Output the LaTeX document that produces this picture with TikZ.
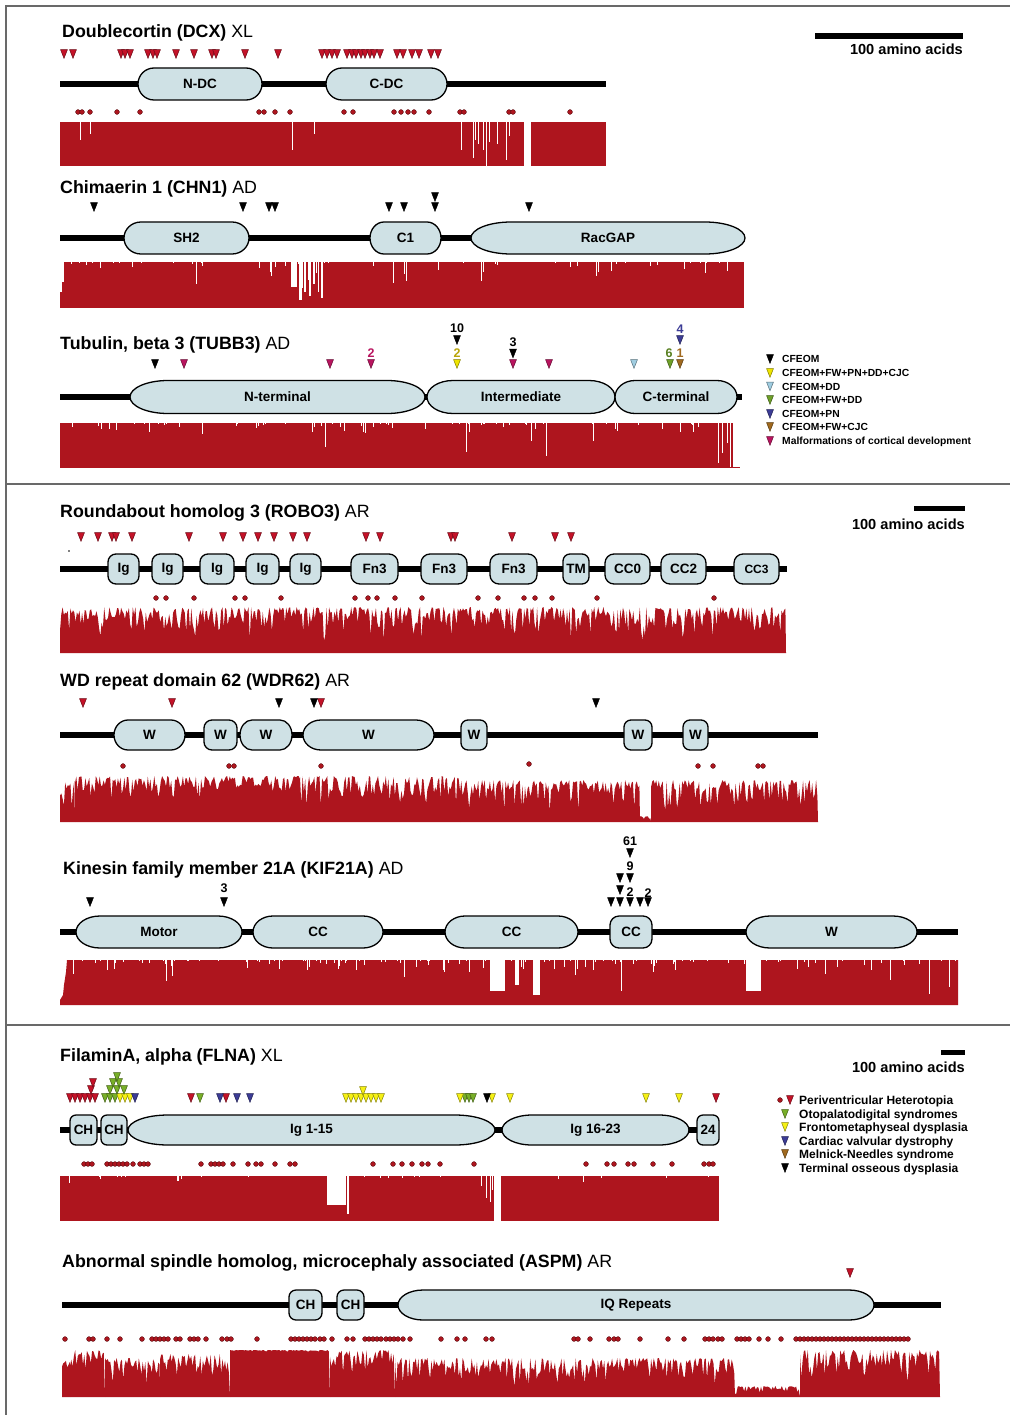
\documentclass[tikz,border=0pt]{standalone}
\usepackage{fontspec}
\setmainfont{Liberation Sans}
\definecolor{consred}{RGB}{174,21,30}
\definecolor{domfill}{RGB}{207,225,229}
\definecolor{trired}{RGB}{196,18,40}
\definecolor{framegray}{RGB}{105,105,105}
\definecolor{tyellow}{RGB}{238,228,0}
\definecolor{dyellow}{RGB}{185,165,10}
\definecolor{tlblue}{RGB}{160,205,225}
\definecolor{tgreen}{RGB}{110,160,40}
\definecolor{tblue}{RGB}{60,60,150}
\definecolor{tbrown}{RGB}{160,105,30}
\definecolor{tmag}{RGB}{185,20,95}
\definecolor{fgreen}{RGB}{120,175,40}
\definecolor{fyellow}{RGB}{245,240,20}
\tikzset{
 backbone/.style={line width=6pt, black},
 dom/.style={draw=black, line width=1.3pt, fill=domfill},
 domtxt/.style={font=\fontsize{13.5}{15}\selectfont\bfseries, inner sep=0pt},
 ttl/.style={anchor=base west, inner sep=0pt, font=\fontsize{17.8}{20}\selectfont},
 scl/.style={anchor=base east, inner sep=0pt, font=\fontsize{14.6}{16}\selectfont\bfseries},
 leg/.style={anchor=base west, inner sep=0pt, font=\fontsize{10.3}{12}\selectfont\bfseries},
 legb/.style={anchor=base west, inner sep=0pt, font=\fontsize{12}{14}\selectfont\bfseries},
 num/.style={anchor=base, inner sep=0pt, font=\fontsize{12.5}{14}\selectfont\bfseries},
 framel/.style={framegray, line width=1.8pt},
 scalebar/.style={line width=6pt, black},
 wline/.style={white, line width=0.6pt},
}
\newcommand{\tri}[3]{\filldraw[fill=#3, draw=#3!55!black, line width=0.5pt] ({#1-3.4},{#2-4.3}) -- ({#1+3.4},{#2-4.3}) -- (#1,{#2+4.3}) -- cycle;}
\newcommand{\tris}[3]{\foreach \tx in {#3} {\tri{\tx}{#1}{#2}}}
\newcommand{\dts}[2]{\foreach \dx in {#2} {\filldraw[fill=consred, draw=consred!50!black, line width=0.4pt] (\dx,#1) circle (2.4pt);}}
\newcommand{\rdom}[7]{%
  \pgfmathsetmacro\dw{#3-#2}%
  \node[dom, rounded corners=#6pt, minimum width=\dw pt, minimum height=#5pt, domtxt] (#1) at ({(#2+#3)/2},#4) {#7};}
\newcommand{\edom}[7]{%
  \draw[dom] ({#2+#6},{#4-#5}) -- ({#3-#6},{#4-#5}) arc[start angle=90, end angle=-90, x radius=#6pt, y radius=#5pt] -- ({#2+#6},{#4+#5}) arc[start angle=-90, end angle=-270, x radius=#6pt, y radius=#5pt] -- cycle;
  \node[domtxt] (#1) at ({(#2+#3)/2},#4) {#7};}
\newcommand{\noisy}[6]{%
  \pgfmathtruncatemacro\nn{(#2-#1)/1.3}%
  \fill[consred] (#1,#4) \foreach \i in {0,...,\nn} { -- ({#1+\i*1.3},{#3+#5+(#6-#5)*rnd*rnd}) } -- (#2,#4) -- cycle;}
\newcommand{\wlines}[5]{%
  \foreach \i in {1,...,#4} {
    \pgfmathsetmacro\xx{#1+rnd*(#2-#1)}
    \pgfmathsetmacro\dd{#5*rnd*rnd*rnd}
    \draw[wline] (\xx,{#3-0.5}) -- (\xx,{#3+\dd});
  }}
\begin{document}
\begin{tikzpicture}[x=1pt,y=-1pt]
\useasboundingbox (0,0) rectangle (1010,1415);
\fill[white] (0,0) rectangle (1010,1415);
\pgfmathsetseed{12}
% frame
\draw[framel] (6,1415) -- (6,6) -- (1010,6);
\draw[framel] (6,484) -- (1010,484);
\draw[framel] (6,1025) -- (1010,1025);

%================ DCX
\node[ttl] (t1) at (62,38) {\textbf{Doublecortin (DCX)} XL};
\coordinate (sb1a) at (815,36); \coordinate (sb1b) at (963,36);
\draw[scalebar] (sb1a) -- (sb1b);
\node[scl] (s1) at (963,55) {100 amino acids};
\tris{54}{trired}{64,73,121,125,130,148,153,157,176,194,212,216,245,278,322,327,332,337,347,352,356,361,365,370,374,380,397,403,412,419,431,438}
\coordinate (b1a) at (60,84); \coordinate (b1b) at (606,84);
\draw[backbone] (b1a) -- (b1b);
\edom{d1a}{138}{262}{84}{16}{16}{N-DC}
\edom{d1b}{326}{447}{84}{16}{16}{C-DC}
\dts{112}{78,82,90,117,140,259,264,275,290,344,353,394,401,408,414,429,460,464,509,513,570}
\fill[consred] (60,122) rectangle (606,166);
\fill[white] (524,122) rectangle (530.5,166);
\foreach \xx/\dd in {80/18,90/12,292/28,314/12,461/28,473/36,475/18,478/22,483/28,486/44,489/20,497/22,506/38,509/14} {\draw[wline] (\xx,121.5) -- (\xx,{122+\dd});}

%================ CHN1
\node[ttl] (t2) at (60,194) {\textbf{Chimaerin 1 (CHN1)} AD};
\tris{207}{black}{94,243,269,275,389,404,435,529}
\tri{435}{197}{black}
\coordinate (b2a) at (60,238); \coordinate (b2b) at (745,238);
\draw[backbone] (b2a) -- (b2b);
\edom{d2a}{124}{249}{238}{16}{17}{SH2}
\edom{d2b}{370}{441}{238}{16}{14}{C1}
\edom{d2c}{471}{745}{238}{16}{40}{RacGAP}
\fill[consred] (60,262) rectangle (744,308);
\fill[white] (60,261.5) rectangle (61.5,292);
\fill[white] (62,261.5) rectangle (63.5,282);
\foreach \xa/\xb/\dd in {291/297/25,299/302/38,304/306/30,309/311/34,313/315/22,318/319/30,321/322.5/36} {\fill[white] (\xa,261.5) rectangle (\xb,{262+\dd});}
\wlines{64}{744}{262}{55}{40}

%================ TUBB3
\node[ttl] (t3) at (60,349) {\textbf{Tubulin, beta 3 (TUBB3)} AD};
\tri{155}{364}{black}
\tris{364}{tmag}{184,330,371,513,549}
\node[num, tmag] (n1) at (371,357) {2};
\node[num] (n2) at (457,332) {10};
\tri{457}{340}{black}
\node[num, dyellow] (n3) at (457,357) {2};
\tri{457}{364}{tyellow}
\node[num] (n4) at (513,346.5) {3};
\tri{513}{353.5}{black}
\tri{634}{364}{tlblue}
\tri{670}{364}{tgreen}
\node[num, tgreen!80!black] (n5) at (669,357) {6};
\tri{680}{364}{tbrown}
\node[num, tbrown] (n6) at (680,357) {1};
\tri{680}{340}{tblue}
\node[num, tblue] (n7) at (680,333) {4};
\coordinate (b3a) at (60,397); \coordinate (b3b) at (742,397);
\draw[backbone] (b3a) -- (b3b);
\edom{d3a}{130}{425}{397}{16.5}{38}{N-terminal}
\edom{d3b}{427}{615}{397}{16.5}{26}{Intermediate}
\edom{d3c}{615}{737}{397}{16.5}{20}{C-terminal}
\fill[consred] (60,423) rectangle (740,468);
\fill[white] (733,422.5) rectangle (741,466.5);
\foreach \xx/\dd in {718/40,722/30,727/20,730/44} {\draw[wline] (\xx,422.5) -- (\xx,{423+\dd});}
\wlines{62}{716}{423}{70}{42}
% legend
\foreach \yy/\cc/\tt [count=\k] in {359/black/CFEOM,373/tyellow/CFEOM+FW+PN+DD+CJC,386.5/tlblue/CFEOM+DD,400/tgreen/CFEOM+FW+DD,414/tblue/CFEOM+PN,427/tbrown/CFEOM+FW+CJC,441/tmag/Malformations of cortical development} {
  \tri{770}{\yy}{\cc}
  \node[leg] (lg\k) at (782,{\yy+3.7}) {\tt};
}

%================ ROBO3
\node[ttl] (t4) at (60,517) {\textbf{Roundabout homolog 3 (ROBO3)} AR};
\coordinate (sb2a) at (914,508); \coordinate (sb2b) at (965,508);
\draw[scalebar, line width=5pt] (sb2a) -- (sb2b);
\node[scl] (s2) at (965,529) {100 amino acids};
\tris{537}{trired}{81,98,112,116,132,189,223,243,258,274,293,307,366,380,451,455,512,555,571}
\fill (69,551) circle (0.8pt);
\coordinate (b4a) at (60,569); \coordinate (b4b) at (787,569);
\draw[backbone] (b4a) -- (b4b);
\rdom{r1}{108}{139}{569}{30}{8}{Ig}
\rdom{r2}{152}{183}{569}{30}{8}{Ig}
\rdom{r3}{200}{234}{569}{30}{8}{Ig}
\rdom{r4}{246}{279}{569}{30}{8}{Ig}
\rdom{r5}{290}{321}{569}{30}{8}{Ig}
\rdom{r6}{351}{398}{569}{30}{9}{Fn3}
\rdom{r7}{421}{467}{569}{30}{9}{Fn3}
\rdom{r8}{490}{537}{569}{30}{9}{Fn3}
\rdom{r9}{563}{589}{569}{30}{7}{TM}
\rdom{r10}{605}{650}{569}{30}{9}{CC0}
\rdom{r11}{661}{706}{569}{30}{9}{CC2}
\rdom{r12}{734}{779}{569}{30}{9}{\fontsize{12}{13}\selectfont CC3}
\dts{598}{156,166,194,235,245,281,355,368,377,395,422,478,498,524,535,552,597,714}
\noisy{60}{786}{607}{653}{0}{36}

%================ WDR62
\node[ttl] (t5) at (60,686) {\textbf{WD repeat domain 62 (WDR62)} AR};
\tris{703}{trired}{83,172,321}
\tris{703}{black}{279,314,596}
\coordinate (b5a) at (60,735); \coordinate (b5b) at (818,735);
\draw[backbone] (b5a) -- (b5b);
\edom{w1}{114}{185}{735}{15}{14}{W}
\rdom{w2}{204}{237}{735}{30}{8}{W}
\edom{w3}{240}{292}{735}{15}{12}{W}
\edom{w4}{303}{434}{735}{15}{18}{W}
\rdom{w5}{461}{487}{735}{30}{7}{W}
\rdom{w6}{624}{652}{735}{30}{7}{W}
\rdom{w7}{683}{708}{735}{30}{7}{W}
\dts{766}{123,229,234,321,698,713,758,763}
\dts{764}{529}
\noisy{60}{75}{776}{822}{5}{36}
\noisy{75}{300}{776}{822}{0}{26}
\noisy{300}{460}{776}{822}{0}{34}
\noisy{460}{640}{776}{822}{4}{40}
\noisy{640}{651}{776}{822}{40}{46}
\noisy{651}{818}{776}{822}{4}{40}

%================ KIF21A
\node[ttl] (t6) at (63,874) {\textbf{Kinesin family member 21A (KIF21A)} AD};
\tris{902}{black}{90,224,611,620,630,640,648}
\node[num] (n8) at (224,892) {3};
\tri{620}{890}{black}
\tri{620}{878}{black}
\tri{630}{878}{black}
\node[num] (n9) at (630,896) {2};
\node[num] (n10) at (648,897) {2};
\node[num] (n11) at (630,870) {9};
\tri{630}{853}{black}
\node[num] (n12) at (630,845) {61};
\coordinate (b6a) at (60,932); \coordinate (b6b) at (958,932);
\draw[backbone] (b6a) -- (b6b);
\edom{k1}{76}{242}{932}{16}{24}{Motor}
\edom{k2}{253}{383}{932}{16}{20}{CC}
\edom{k3}{445}{578}{932}{16}{20}{CC}
\rdom{k4}{610}{652}{932}{32}{9}{CC}
\edom{k5}{746}{917}{932}{16}{24}{W}
\fill[consred] (60,1005) -- (60,1000) -- (63,995) -- (64,985) -- (66,972) -- (67,960) -- (958,960) -- (958,1005) -- cycle;
\fill[white] (490,959.5) rectangle (505,991);
\fill[white] (515,959.5) rectangle (519,985);
\fill[white] (533,959.5) rectangle (540,995);
\fill[white] (746,959.5) rectangle (761,991);
\wlines{68}{956}{960}{130}{40}

%================ FLNA
\node[ttl] (t7) at (60,1061) {\textbf{FilaminA, alpha (FLNA)} XL};
\coordinate (sb3a) at (941,1052); \coordinate (sb3b) at (965,1052);
\draw[scalebar, line width=5pt] (sb3a) -- (sb3b);
\node[scl] (s3) at (965,1072) {100 amino acids};
\tris{1098}{trired}{70,75,80,85,90,95,191,226,716}
\tri{91}{1090}{trired}
\tri{93}{1083}{trired}
\tris{1098}{fgreen}{105,110,115,200,465,469,473}
\tris{1098}{fyellow}{120,125,130,346,351,356,361,366,371,376,381,460,492,510,646,679}
\tris{1098}{tblue}{135,220,237,250}
\tri{487}{1098}{black}
\tris{1090}{fgreen}{110,117,124}
\tris{1083}{fgreen}{113,119}
\tri{117}{1077}{fgreen}
\tri{363}{1091}{fyellow}
\coordinate (b7a) at (60,1130); \coordinate (b7b) at (718,1130);
\draw[backbone] (b7a) -- (b7b);
\rdom{f1}{70}{97}{1130}{30}{6}{CH}
\rdom{f2}{101}{127}{1130}{30}{6}{CH}
\edom{f3}{128}{495}{1130}{15}{40}{Ig 1-15}
\edom{f4}{502}{689}{1130}{15}{30}{Ig 16-23}
\rdom{f5}{697}{719}{1130}{30}{6}{24}
\dts{1164}{84,88,92,107,111,115,119,123,127,133,140,144,148,201,211,215,219,223,233,248,256,261,275,290,295,373,393,402,412,422,428,440,474,586,607,614,628,634,653,672,704,709,713}
\fill[consred] (60,1176) rectangle (719,1221);
\fill[white] (327,1175.5) rectangle (346,1205);
\fill[white] (347.3,1175.5) rectangle (348.5,1214);
\fill[white] (494,1175.5) rectangle (501,1221.5);
\foreach \xx/\dd in {486/22,490/26,492/14,481/10} {\draw[wline] (\xx,1175.5) -- (\xx,{1176+\dd});}
\wlines{62}{717}{1176}{25}{20}
% legend
\filldraw[fill=consred, draw=consred!50!black, line width=0.4pt] (780,1100) circle (2.4pt);
\tri{790}{1100}{trired}
\node[legb] (fl1) at (799,1104) {Periventricular Heterotopia};
\foreach \yy/\cc/\tt [count=\k] in {1114/fgreen/Otopalatodigital syndromes,1127/fyellow/Frontometaphyseal dysplasia,1141/tblue/Cardiac valvular dystrophy,1154/tbrown/Melnick-Needles syndrome,1168/black/Terminal osseous dysplasia} {
  \tri{785}{\yy}{\cc}
  \node[legb] (fm\k) at (799,{\yy+4.2}) {\tt};
}

%================ ASPM
\node[ttl] (t8) at (62,1267) {\textbf{Abnormal spindle homolog, microcephaly associated (ASPM)} AR};
\tri{850}{1273}{trired}
\coordinate (b8a) at (62,1305); \coordinate (b8b) at (941,1305);
\draw[backbone] (b8a) -- (b8b);
\rdom{a1}{289}{322}{1305}{30}{7}{CH}
\rdom{a2}{337}{364}{1305}{30}{7}{CH}
\edom{a3}{398}{874}{1305}{15}{25}{IQ Repeats}
\dts{1339}{65,89,93,107,120,142,152,156,160,164,168,176,180,190,194,198,206,222,227,231,257,291,295,299,303,307,311,315,320,324,332,347,353,365,369,373,377,381,386,390,394,398,403,410,441,457,465,486,492,574,578,590,609,614,618,640,668,684,705,709,713,718,722,737,741,745,749,759,768,781}
\dts{1339}{796,800,...,908}
\noisy{62}{70}{1350}{1397}{10}{32}
\noisy{70}{105}{1350}{1397}{0}{24}
\noisy{105}{160}{1350}{1397}{8}{38}
\noisy{160}{230}{1350}{1397}{4}{34}
\noisy{230}{330}{1350}{1397}{0}{2}
\noisy{330}{395}{1350}{1397}{0}{30}
\noisy{395}{735}{1350}{1397}{8}{40}
\noisy{735}{800}{1350}{1397}{36}{45}
\noisy{800}{940}{1350}{1397}{0}{34}
\end{tikzpicture}
\end{document}
